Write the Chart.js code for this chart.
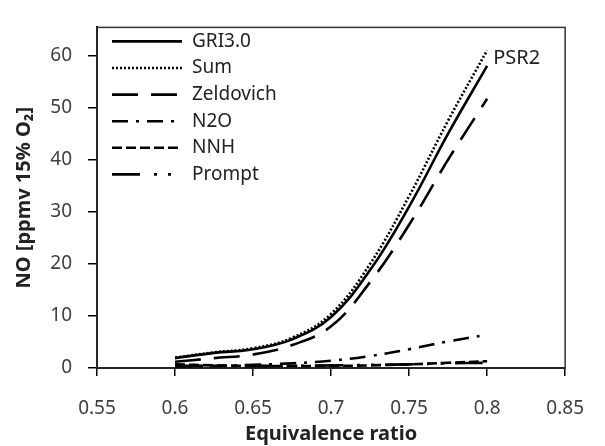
<!DOCTYPE html>
<html>
<head>
<meta charset="utf-8">
<script src="https://cdn.jsdelivr.net/npm/chart.js@4/dist/chart.umd.min.js"></script>
<style>
  html, body { margin: 0; padding: 0; background: #fff; }
  #wrap { width: 605px; height: 446px; }
</style>
</head>
<body>
<div id="wrap"><canvas id="noChart" width="605" height="446"></canvas></div>
<script>
// Datos
const phi = [0.6, 0.625, 0.65, 0.675, 0.7, 0.725, 0.75, 0.775, 0.8];
const gri30 = [1.9, 2.9, 3.6, 5.5, 9.8, 18.8, 31.0, 45.0, 58.0];
const sumNO = [2.0, 3.0, 3.8, 5.8, 10.4, 20.0, 33.0, 47.5, 61.0];
const zeldovich = [1.2, 1.9, 2.6, 4.4, 8.0, 16.5, 27.5, 40.0, 51.7];
const n2o = [0.3, 0.4, 0.6, 0.9, 1.4, 2.3, 3.6, 5.1, 6.4];
const nnh = [0.7, 0.5, 0.4, 0.4, 0.4, 0.5, 0.7, 1.0, 1.3];
const prompt = [0.4, 0.4, 0.4, 0.4, 0.5, 0.6, 0.7, 0.9, 1.0];

const xTicks = [0.55, 0.6, 0.65, 0.7, 0.75, 0.8, 0.85];
const yTicks = [0, 10, 20, 30, 40, 50, 60];

const FONT = "'Noto Sans', 'DejaVu Sans', sans-serif";

const toPoints = vals => vals.map((v, i) => ({ x: phi[i], y: v }));

function series(label, vals, dash) {
  return {
    label,
    data: toPoints(vals),
    borderColor: "#000",
    borderWidth: 2.6,
    borderDash: dash,
    pointRadius: 0,
    fill: false,
    tension: 0.4
  };
}

// Marco superior/derecho
const framePlugin = {
  id: "frame",
  beforeDatasetsDraw(chart) {
    const { ctx, chartArea: a } = chart;
    ctx.save();
    ctx.strokeStyle = "#333";
    ctx.lineWidth = 1.5;
    ctx.strokeRect(a.left, a.top, a.right - a.left, a.bottom - a.top);
    ctx.restore();
  }
};

// Leyenda dentro del área + etiqueta PSR2
const legendPlugin = {
  id: "insideLegend",
  afterDraw(chart) {
    const { ctx, chartArea: a, scales } = chart;
    ctx.save();
    ctx.font = "19px " + FONT;
    ctx.textBaseline = "middle";
    ctx.textAlign = "left";
    chart.data.datasets.forEach((ds, i) => {
      const y = a.top + 14 + i * 26.6;
      ctx.beginPath();
      ctx.setLineDash(ds.borderDash || []);
      ctx.strokeStyle = "#000";
      ctx.lineWidth = 2.6;
      ctx.moveTo(a.left + 15, y);
      ctx.lineTo(a.left + 85, y);
      ctx.stroke();
      ctx.setLineDash([]);
      ctx.fillStyle = "#222";
      ctx.fillText(ds.label, a.left + 95, y);
    });
    ctx.font = "20px " + FONT;
    ctx.fillStyle = "#222";
    ctx.fillText("PSR2", scales.x.getPixelForValue(0.8) + 6, scales.y.getPixelForValue(59.5));
    ctx.restore();
  }
};

new Chart(document.getElementById("noChart"), {
  type: "line",
  data: {
    datasets: [
      series("GRI3.0", gri30, []),
      series("Sum", sumNO, [2, 2]),
      series("Zeldovich", zeldovich, [26, 13]),
      series("N2O", n2o, [16, 8, 3, 8]),
      series("NNH", nnh, [10, 4]),
      series("Prompt", prompt, [28, 14, 3, 11, 3, 11])
    ]
  },
  options: {
    responsive: false,
    animation: false,
    layout: { padding: { top: 13, right: 32, bottom: 0, left: 0 } },
    plugins: {
      legend: { display: false },
      tooltip: { enabled: false }
    },
    scales: {
      x: {
        type: "linear",
        min: 0.55,
        max: 0.85,
        afterBuildTicks: scale => { scale.ticks = xTicks.map(v => ({ value: v })); },
        afterFit: scale => { scale.height = 78; },
        ticks: {
          color: "#404040",
          font: { family: FONT, size: 19 },
          padding: 21,
          maxRotation: 0,
          callback: v => String(+v.toFixed(2))
        },
        grid: { drawOnChartArea: false, drawTicks: true, tickLength: 8, color: "#000", lineWidth: 1.5 },
        border: { color: "#000", width: 2 },
        title: {
          display: true,
          text: "Equivalence ratio",
          color: "#222",
          font: { family: FONT, size: 20, weight: "bold" },
          padding: { top: 0, bottom: 0 }
        }
      },
      y: {
        min: 0,
        max: 65.4,
        afterBuildTicks: scale => { scale.ticks = yTicks.map(v => ({ value: v })); },
        afterFit: scale => { scale.width = 97; },
        ticks: {
          color: "#404040",
          font: { family: FONT, size: 19 },
          padding: 16
        },
        grid: { drawOnChartArea: false, drawTicks: true, tickLength: 9, color: "#000", lineWidth: 1.5 },
        border: { color: "#000", width: 2 },
        title: {
          display: true,
          text: "NO [ppmv 15% O₂]",
          color: "#222",
          font: { family: FONT, size: 20, weight: "bold" },
          padding: { top: 12, bottom: 0 }
        }
      }
    }
  },
  plugins: [framePlugin, legendPlugin]
});
</script>
</body>
</html>
